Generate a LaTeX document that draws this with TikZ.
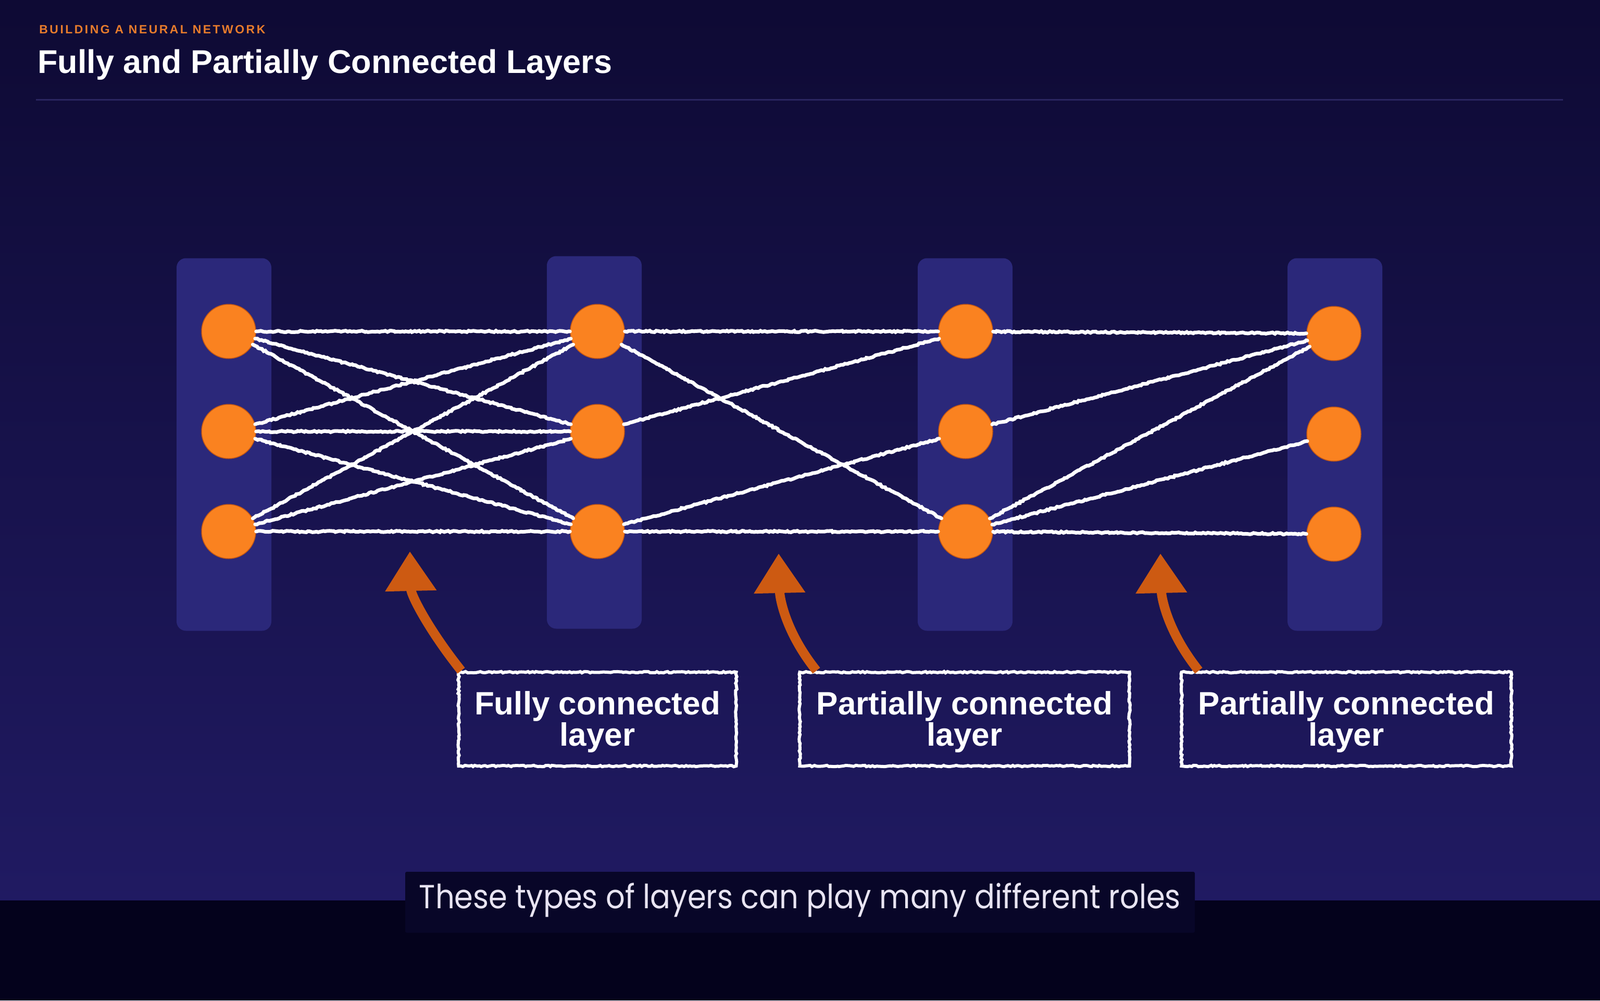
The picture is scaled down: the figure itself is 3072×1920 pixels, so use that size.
\documentclass[tikz,border=0pt]{standalone}
\usepackage{fontspec}
\setmainfont{Liberation Sans}
\newfontfamily\capfont[FakeStretch=0.9]{Poppins}
\newfontfamily\kickerfont[LetterSpace=15]{Liberation Sans}
\usetikzlibrary{arrows.meta,decorations.pathmorphing}

\definecolor{bgtop}{RGB}{14,10,52}
\definecolor{bgbot}{RGB}{32,26,98}
\definecolor{bandcol}{RGB}{4,2,28}
\definecolor{capcol}{RGB}{8,6,40}
\definecolor{rulecol}{RGB}{42,37,96}
\definecolor{laycol}{RGB}{43,40,122}
\definecolor{nodecol}{RGB}{250,130,32}
\definecolor{nodeedge}{RGB}{196,88,20}
\definecolor{arrowcol}{RGB}{205,90,18}
\definecolor{kickcol}{RGB}{232,124,44}
\definecolor{captext}{RGB}{232,228,242}

\tikzset{every picture/.style={line width=0.8pt}}
\tikzset{
  layerbox/.style={fill=laycol, rounded corners=18pt, minimum width=182pt, minimum height=715pt, inner sep=0pt},
  neuron/.style={circle, fill=nodecol, draw=nodeedge, line width=1.5pt, minimum size=104pt, inner sep=0pt},
  chalk/.style={draw=white, line width=7pt, line cap=round, decoration={random steps,segment length=4pt,amplitude=1.4pt}, decorate},
  tagbox/.style={draw=white, line width=6pt, decoration={random steps,segment length=4pt,amplitude=1.3pt}, decorate, minimum height=180pt, inner sep=0pt, align=center, text=white, font=\fontsize{62}{60}\selectfont\bfseries},
  pointer/.style={draw=arrowcol, line width=18pt, -{Triangle[width=94pt,length=76pt]}}
}

\begin{document}
\begin{tikzpicture}[x=1pt,y=1pt,yscale=-1, xscale=1]
\useasboundingbox (0,0) rectangle (3072,1920);

%Shape: Background
\shade [top color=bgtop, bottom color=bgbot] (0,0) rectangle (3072,1728);
\fill [bandcol] (0,1728) rectangle (3072,1920);
%Shape: Rule under the heading
\draw [rulecol, line width=3pt] (69,191) -- (3001,191);

% Text Node
\node [anchor=base west, inner sep=0pt, text=kickcol, font=\kickerfont\fontsize{23}{26}\selectfont\bfseries] (kicker) at (75,64) {BUILDING A NEURAL NETWORK};
% Text Node
\node [anchor=base west, inner sep=0pt, text=white, font=\fontsize{63}{70}\selectfont\bfseries] (title) at (72,140) {Fully and Partially Connected Layers};

%Shape: Layer panels
\node [layerbox] (lay1) at (430,853) {};
\node [layerbox] (lay2) at (1141,849) {};
\node [layerbox] (lay3) at (1853,853) {};
\node [layerbox] (lay4) at (2563,853) {};

%Shape: Neurons
\node [neuron] (n11) at (439,636) {};
\node [neuron] (n12) at (439,828) {};
\node [neuron] (n13) at (439,1020) {};
\node [neuron] (n21) at (1147,636) {};
\node [neuron] (n22) at (1147,828) {};
\node [neuron] (n23) at (1147,1020) {};
\node [neuron] (n31) at (1854,636) {};
\node [neuron] (n32) at (1854,828) {};
\node [neuron] (n33) at (1854,1020) {};
\node [neuron] (n41) at (2561,640) {};
\node [neuron] (n42) at (2561,833) {};
\node [neuron] (n43) at (2561,1025) {};

%Shape: Fully connected weights
\draw [chalk] (n11) -- (n21) (n11) -- (n22) (n11) -- (n23);
\draw [chalk] (n12) -- (n21) (n12) -- (n22) (n12) -- (n23);
\draw [chalk] (n13) -- (n21) (n13) -- (n22) (n13) -- (n23);
%Shape: Partially connected weights
\draw [chalk] (n21) -- (n31) (n21) -- (n33) (n22) -- (n31) (n23) -- (n32) (n23) -- (n33);
\draw [chalk] (n31) -- (n41) (n32) -- (n41) (n33) -- (n41) (n33) -- (n42) (n33) -- (n43);

% Text Node
\node [tagbox, minimum width=533pt] (tag1) at (1147,1380) {\rule{0pt}{56pt}Fully connected\\layer};
% Text Node
\node [tagbox, minimum width=633pt] (tag2) at (1852,1380) {\rule{0pt}{56pt}Partially connected\\layer};
% Text Node
\node [tagbox, minimum width=633pt] (tag3) at (2585,1380) {\rule{0pt}{56pt}Partially connected\\layer};

%Shape: Pointers
\coordinate (tip1) at (787,1058);
\coordinate (tip2) at (1495,1062);
\coordinate (tip3) at (2228,1062);
\draw [pointer] ([xshift=8pt]tag1.north west) .. controls +(-60,-75) and +(2,85) .. (tip1);
\draw [pointer] ([xshift=35pt]tag2.north west) .. controls +(-60,-75) and +(2,85) .. (tip2);
\draw [pointer] ([xshift=36pt]tag3.north west) .. controls +(-60,-75) and +(2,85) .. (tip3);

%Shape: Caption strip
\fill [capcol, rounded corners=3pt] (778,1673) rectangle (2294,1790);
% Text Node
\node [anchor=base, inner sep=0pt, text=captext, font=\capfont\fontsize{64}{68}\selectfont] (caption) at (1536,1743) {These types of layers can play many different roles};
\end{tikzpicture}
\end{document}
